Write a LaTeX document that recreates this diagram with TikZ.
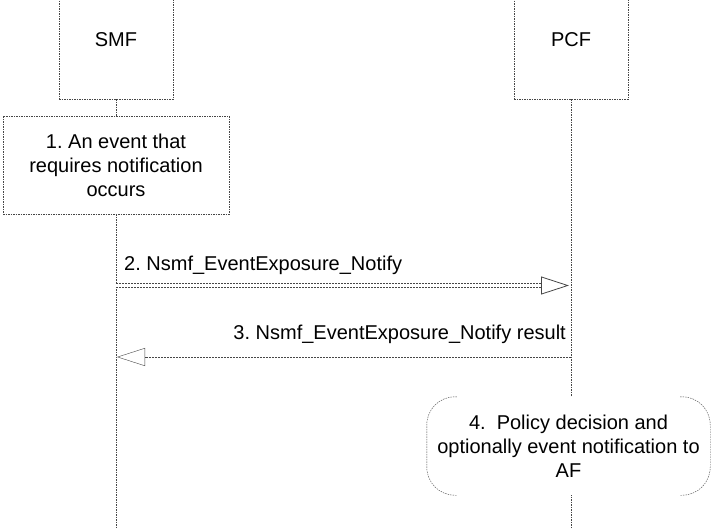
\documentclass[tikz,border=0pt]{standalone}
\usepackage{fontspec}
\setmainfont{Liberation Sans}
\frenchspacing
\usetikzlibrary{arrows.meta,positioning}
\definecolor{lineCol}{RGB}{70,70,70}
\tikzset{
  txt/.style={font=\fontsize{20}{24}\selectfont, align=center, inner sep=0pt},
  ent/.style={txt, draw=lineCol, dash pattern=on 1.5pt off 1pt, fill=white,
              minimum width=114pt, minimum height=119pt},
  act/.style={txt, draw=lineCol, dash pattern=on 1.5pt off 1pt, fill=white,
              minimum width=226pt, minimum height=98pt},
  note/.style={txt, fill=white, minimum width=283pt, minimum height=98pt},
  brk/.style={lineCol, dash pattern=on 1.5pt off 1pt, rounded corners=28pt},
  life/.style={lineCol, dash pattern=on 1.5pt off 1pt},
  msg/.style={lineCol, dash pattern=on 2pt off 1pt,
              -{Triangle[open, length=28pt, width=18pt]}},
  dmsg/.style={msg, double=white, double distance=3pt, line width=0.8pt},
}

\begin{document}
\begin{tikzpicture}[x=1pt, y=-1pt]
  \useasboundingbox (0,0) rectangle (713,528);
  % entities
  \node[ent] (smf) at (116,39.5) {SMF};
  \node[ent] (pcf) at (571,39.5) {PCF};
  \coordinate (smfEnd) at (116,528);
  \coordinate (pcfEnd) at (571,528);
  % lifelines
  \draw[life] (smf) -- (smfEnd);
  \draw[life] (pcf) -- (pcfEnd);

  % step 1
  \node[act] (ev) at (116,165) {1. An event that\\requires notification\\occurs};

  % step 2
  \coordinate (m2s) at (116,285.5);
  \coordinate (m2e) at (569,285.5);
  \draw[dmsg] (m2s) -- (m2e);
  \node[txt, anchor=west] (l2) at (124,265) {2. Nsmf\_EventExposure\_Notify};

  % step 3
  \coordinate (m3s) at (571,357);
  \coordinate (m3e) at (117,357);
  \draw[msg] (m3s) -- (m3e);
  \node[txt, anchor=east] (l3) at (566,334) {3. Nsmf\_EventExposure\_Notify result};

  % step 4
  \node[note] (pol) at (568.5,446) {4.\ \ Policy decision and\\optionally event notification to\\AF};
  \draw[brk] ([xshift=30pt]pol.north west) -- (pol.north west) -- (pol.south west) -- ([xshift=30pt]pol.south west);
  \draw[brk] ([xshift=-30pt]pol.north east) -- (pol.north east) -- (pol.south east) -- ([xshift=-30pt]pol.south east);
\end{tikzpicture}
\end{document}
